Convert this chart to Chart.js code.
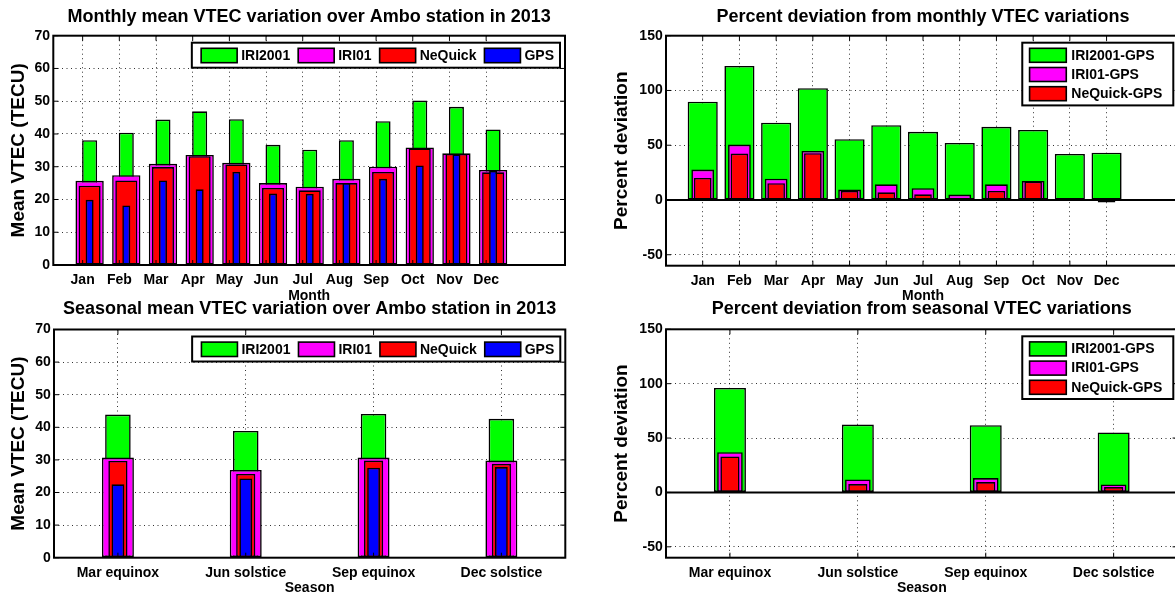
<!DOCTYPE html>
<html>
<head>
<meta charset="utf-8">
<script src="https://cdn.jsdelivr.net/npm/chart.js@4.4.1/dist/chart.umd.min.js"></script>
<style>
  html, body { margin: 0; padding: 0; background: #fff; }
  body { width: 1175px; height: 597px; overflow: hidden; position: relative; }
  .panel { position: absolute; }
</style>
</head>
<body>
<div class="panel" style="left:0;top:0;width:590px;height:310px"><canvas id="monthly"></canvas></div>
<div class="panel" style="left:590px;top:0;width:600px;height:310px"><canvas id="monthlyDev"></canvas></div>
<div class="panel" style="left:0;top:290px;width:590px;height:307px"><canvas id="seasonal"></canvas></div>
<div class="panel" style="left:590px;top:290px;width:600px;height:307px"><canvas id="seasonalDev"></canvas></div>
<script>
const months = ['Jan', 'Feb', 'Mar', 'Apr', 'May', 'Jun', 'Jul', 'Aug', 'Sep', 'Oct', 'Nov', 'Dec'];
const seasons = ['Mar equinox', 'Jun solstice', 'Sep equinox', 'Dec solstice'];

// monthly mean VTEC (TECU)
const monthlyIri2001 = [38.1, 40.4, 44.4, 46.9, 44.5, 36.7, 35.2, 38.1, 43.9, 50.2, 48.3, 41.4];
const monthlyIri01 = [25.7, 27.4, 30.9, 33.6, 31.2, 25.0, 23.9, 26.3, 30.0, 35.9, 34.1, 29.0];
const monthlyNeQuick = [24.2, 25.8, 29.9, 33.2, 30.7, 23.5, 22.8, 25.0, 28.4, 35.6, 33.9, 28.3];
const monthlyGps = [19.9, 18.2, 25.8, 23.1, 28.4, 21.8, 21.7, 25.0, 26.3, 30.4, 33.8, 28.7];

// monthly percent deviation
const devIri2001 = [89.7, 122.4, 70.5, 102.1, 55.5, 68.3, 62.2, 52.1, 66.8, 64.0, 42.1, 43.2];
const devIri01 = [27.8, 50.6, 19.5, 44.8, 9.5, 14.3, 10.7, 4.9, 14.3, 17.4, 0.3, 0];
const devNeQuick = [20.1, 42.4, 15.3, 42.7, 8.2, 7.0, 5.2, -0.6, 8.2, 16.8, 0.1, -2.3];

// seasonal mean VTEC (TECU)
const seasIri2001 = [43.9, 38.9, 44.1, 42.6];
const seasIri01 = [30.7, 26.9, 30.7, 29.8];
const seasNeQuick = [29.7, 25.7, 29.8, 28.8];
const seasGps = [22.5, 24.3, 27.6, 27.8];

// seasonal percent deviation
const seasDevIri2001 = [96.1, 62.4, 61.8, 55.1];
const seasDevIri01 = [37.0, 11.9, 13.2, 7.3];
const seasDevNeQuick = [33.1, 7.7, 9.5, 4.9];

const vtecTicks = [0, 10, 20, 30, 40, 50, 60, 70];
const devTicks = [-50, 0, 50, 100, 150];

const FONT = '"Liberation Sans", Arial, sans-serif';
Chart.defaults.font.family = FONT;
Chart.defaults.font.size = 14;
Chart.defaults.font.weight = 'bold';
Chart.defaults.color = '#000';

// axes box, inward ticks, zero baseline
const frame = {
    id: 'frame',
    afterDatasetsDraw(chart, args, o) {
        const {ctx, chartArea: a, scales: {x, y}} = chart;
        const line = (x1, y1, x2, y2) => { ctx.beginPath(); ctx.moveTo(x1, y1); ctx.lineTo(x2, y2); ctx.stroke(); };
        ctx.save();
        ctx.strokeStyle = '#000';
        if (o.zeroLine) {
            ctx.lineWidth = 2;
            const py = y.getPixelForValue(0);
            line(a.left, py, a.right, py);
        }
        ctx.lineWidth = 1;
        x.ticks.forEach(t => {
            const px = x.getPixelForValue(t.value);
            line(px, a.bottom, px, a.bottom - 5);
            line(px, a.top, px, a.top + 5);
        });
        y.ticks.forEach(t => {
            const py = y.getPixelForValue(t.value);
            line(a.left, py, a.left + 5, py);
            line(a.right, py, a.right - 5, py);
        });
        ctx.lineWidth = 2;
        ctx.strokeRect(a.left, a.top, a.width, a.height);
        ctx.restore();
    }
};

// MATLAB style boxed legend inside the axes
const boxLegend = {
    id: 'boxLegend',
    afterDraw(chart, args, o) {
        const {ctx, chartArea: a} = chart;
        const sets = chart.data.datasets;
        ctx.save();
        ctx.font = 'bold 14px ' + FONT;
        ctx.textBaseline = 'middle';
        ctx.textAlign = 'left';
        const widths = sets.map(d => ctx.measureText(d.label).width);
        let left, top, w, h;
        if (o.row) {
            w = 9.3 + widths.reduce((s, t) => s + 36 + 4 + t, 0) + 8 * (sets.length - 1) + 6;
            h = 25;
        } else {
            w = 7.3 + 36.7 + 5 + Math.max(...widths) + 11;
            h = 5.6 + 19.2 * (sets.length - 1) + 14 + 4.7;
        }
        left = a.right - o.inset - w;
        top = a.top + 7;
        ctx.fillStyle = '#fff';
        ctx.fillRect(left, top, w, h);
        ctx.strokeStyle = '#000';
        ctx.lineWidth = 2;
        ctx.strokeRect(left, top, w, h);
        ctx.lineWidth = 1.6;
        let cx = left + 9.3;
        sets.forEach((d, i) => {
            let sx, sy, sw, sh;
            if (o.row) {
                sx = cx; sy = top + 5.6; sw = 36; sh = 14.4;
                cx += 36 + 4 + widths[i] + 8;
            } else {
                sx = left + 7.3; sy = top + 5.6 + 19.2 * i; sw = 36.7; sh = 14;
            }
            ctx.fillStyle = d.backgroundColor;
            ctx.fillRect(sx, sy, sw, sh);
            ctx.strokeRect(sx, sy, sw, sh);
            ctx.fillStyle = '#000';
            ctx.fillText(d.label, sx + sw + (o.row ? 4 : 5), sy + sh / 2 + 0.5);
        });
        ctx.restore();
    }
};

function bars(label, values, shift, color, width, order) {
    return {
        label: label,
        data: values.map((v, i) => ({x: i + 1 + shift, y: v})),
        backgroundColor: color,
        borderColor: '#000',
        borderWidth: 1.6,
        borderSkipped: false,
        grouped: false,
        barPercentage: width,
        categoryPercentage: 1,
        order: order
    };
}

function makeChart(id, g) {
    return new Chart(document.getElementById(id), {
        type: 'bar',
        data: {datasets: g.datasets},
        options: {
            responsive: true,
            maintainAspectRatio: false,
            animation: false,
            devicePixelRatio: 1,
            layout: {padding: {left: 0, top: 0, bottom: 0, right: g.padRight}},
            plugins: {
                legend: {display: false},
                tooltip: {enabled: false},
                title: {
                    display: true,
                    text: g.title,
                    fullSize: false,
                    font: {size: 18, weight: 'bold'},
                    color: '#000',
                    padding: {top: g.titleTop, bottom: g.titleBottom}
                },
                frame: {zeroLine: g.zeroLine},
                boxLegend: {row: g.legendRow, inset: g.legendInset}
            },
            scales: {
                x: {
                    type: 'linear',
                    min: g.xMin,
                    max: g.xMax,
                    offset: false,
                    afterBuildTicks: axis => { axis.ticks = g.labels.map((l, i) => ({value: i + 1})); },
                    afterFit: axis => { axis.height = g.xHeight; },
                    ticks: {
                        autoSkip: false,
                        maxRotation: 0,
                        minRotation: 0,
                        padding: 7,
                        font: {size: 14, weight: 'bold'},
                        callback: v => g.labels[v - 1]
                    },
                    grid: {offset: false, drawTicks: false, color: 'rgba(0,0,0,0.8)', lineWidth: 1},
                    border: {display: false, dash: [1, 3.5]},
                    title: {display: true, text: g.xTitle, font: {size: 14, weight: 'bold'}, padding: {top: 0, bottom: g.xTitleBottom}}
                },
                y: {
                    min: g.yMin,
                    max: g.yMax,
                    afterBuildTicks: axis => { axis.ticks = g.yTicks.map(v => ({value: v})); },
                    afterFit: axis => { axis.width = g.yWidth; },
                    ticks: {padding: 3.3, font: {size: 14, weight: 'bold'}},
                    grid: {drawTicks: false, color: 'rgba(0,0,0,0.8)', lineWidth: 1},
                    border: {display: false, dash: [1, 3.5]},
                    title: {display: true, text: g.yTitle, font: {size: 19, weight: 'bold'}, padding: {top: g.yTitleTop, bottom: 0}}
                }
            }
        },
        plugins: [frame, boxLegend]
    });
}

const GREEN = '#00ff00', MAGENTA = '#ff00ff', RED = '#ff0000', BLUE = '#0000ff';

makeChart('monthly', {
    title: 'Monthly mean VTEC variation over Ambo station in 2013',
    labels: months,
    datasets: [
        bars('IRI2001', monthlyIri2001, 0.19, GREEN, 0.41, 4),
        bars('IRI01', monthlyIri01, 0.19, MAGENTA, 0.772, 3),
        bars('NeQuick', monthlyNeQuick, 0.19, RED, 0.6, 2),
        bars('GPS', monthlyGps, 0.19, BLUE, 0.218, 1)
    ],
    xMin: 0.2, xMax: 14.15, yMin: 0, yMax: 70, yTicks: vtecTicks,
    xTitle: 'Month', yTitle: 'Mean VTEC (TECU)',
    padRight: 25, yWidth: 53.3, xHeight: 45, titleTop: 6.2, titleBottom: 7.9,
    yTitleTop: 7.6, xTitleBottom: 5.6, zeroLine: false, legendRow: true, legendInset: 5
});

makeChart('monthlyDev', {
    title: 'Percent deviation from monthly VTEC variations',
    labels: months,
    datasets: [
        bars('IRI2001-GPS', devIri2001, 0, GREEN, 0.82, 3),
        bars('IRI01-GPS', devIri01, 0, MAGENTA, 0.62, 2),
        bars('NeQuick-GPS', devNeQuick, 0, RED, 0.48, 1)
    ],
    xMin: 0, xMax: 14, yMin: -60, yMax: 150, yTicks: devTicks,
    xTitle: 'Month', yTitle: 'Percent deviation',
    padRight: 10, yWidth: 76, xHeight: 44.3, titleTop: 6.2, titleBottom: 7.9,
    yTitleTop: 20.1, xTitleBottom: 5.6, zeroLine: true, legendRow: false, legendInset: 6.7
});

makeChart('seasonal', {
    title: 'Seasonal mean VTEC variation over Ambo station in 2013',
    labels: seasons,
    datasets: [
        bars('IRI2001', seasIri2001, 0, GREEN, 0.2, 4),
        bars('IRI01', seasIri01, 0, MAGENTA, 0.25, 3),
        bars('NeQuick', seasNeQuick, 0, RED, 0.15, 2),
        bars('GPS', seasGps, 0, BLUE, 0.1, 1)
    ],
    xMin: 0.5, xMax: 4.5, yMin: 0, yMax: 70, yTicks: vtecTicks,
    xTitle: 'Season', yTitle: 'Mean VTEC (TECU)',
    padRight: 24.7, yWidth: 54, xHeight: 39.3, titleTop: 8.2, titleBottom: 9.7,
    yTitleTop: 7.6, xTitleBottom: 0, zeroLine: false, legendRow: true, legendInset: 5
});

makeChart('seasonalDev', {
    title: 'Percent deviation from seasonal VTEC variations',
    labels: seasons,
    datasets: [
        bars('IRI2001-GPS', seasDevIri2001, 0, GREEN, 0.25, 3),
        bars('IRI01-GPS', seasDevIri01, 0, MAGENTA, 0.2, 2),
        bars('NeQuick-GPS', seasDevNeQuick, 0, RED, 0.15, 1)
    ],
    xMin: 0.5, xMax: 4.5, yMin: -60, yMax: 150, yTicks: devTicks,
    xTitle: 'Season', yTitle: 'Percent deviation',
    padRight: 12.4, yWidth: 76, xHeight: 39.3, titleTop: 8.2, titleBottom: 9.5,
    yTitleTop: 20.1, xTitleBottom: 0, zeroLine: true, legendRow: false, legendInset: 4.3
});
</script>
</body>
</html>
